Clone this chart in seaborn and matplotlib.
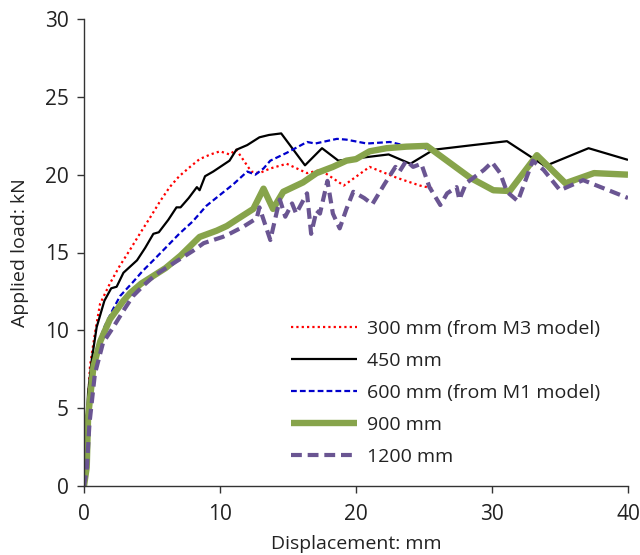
import numpy as np
import pandas as pd
import matplotlib
matplotlib.use("Agg")
import matplotlib.pyplot as plt
import seaborn as sns

# Load-displacement curves for different spacings
x_300 = [0, 0.2, 0.44, 0.8, 1.18, 1.9, 2.6, 3.4, 4.1, 4.9, 5.6, 6.3, 7.0, 7.8, 8.5, 9.3,
         10.0, 10.7, 11.2, 12.3, 12.9, 13.7, 14.9, 16.4, 17.4, 19.1, 21.0, 23.0, 24.7, 25.7]
y_300 = [0, 3.8, 7.7, 9.8, 11.7, 13.0, 14.1, 15.2, 16.2, 17.3, 18.3, 19.2, 19.9, 20.5, 21.0, 21.3,
         21.5, 21.3, 21.6, 20.2, 20.1, 20.4, 20.7, 20.1, 20.3, 19.3, 20.5, 19.8, 19.3, 19.1]

x_450 = [0, 0.15, 0.3, 0.57, 0.93, 1.5, 2.0, 2.4, 2.9, 3.9, 4.5, 5.1, 5.5, 6.2, 6.8, 7.1, 7.7,
         8.3, 8.5, 8.9, 9.5, 10.7, 11.2, 12.0, 12.9, 13.6, 14.5, 16.25, 17.5, 18.7, 20.05, 22.4,
         24.0, 25.7, 28.6, 31.1, 33.9, 37.1, 40.0]
y_450 = [0, 3.0, 6.0, 8.1, 10.2, 11.9, 12.7, 12.8, 13.7, 14.5, 15.3, 16.2, 16.3, 17.1, 17.9, 17.9, 18.5,
         19.2, 19.0, 19.9, 20.2, 20.9, 21.6, 21.9, 22.4, 22.55, 22.65, 20.6, 21.7, 20.9, 21.05, 21.3,
         20.7, 21.6, 21.9, 22.15, 20.55, 21.7, 20.95]

x_600 = [0, 0.3, 0.57, 1.05, 1.54, 2.1, 2.65, 3.6, 4.3, 5.1, 6.0, 7.0, 8.0, 9.0, 10.0, 11.0, 11.5,
         12.0, 12.6, 13.2, 13.7, 14.9, 16.4, 17.0, 18.6, 19.3, 20.8, 22.5, 23.7, 24.7, 25.4, 25.9]
y_600 = [0, 3.5, 6.6, 9.2, 10.3, 11.3, 12.2, 13.1, 13.8, 14.5, 15.3, 16.2, 17.0, 18.0, 18.7, 19.4, 19.8,
         20.2, 20.0, 20.4, 20.9, 21.4, 22.1, 22.0, 22.3, 22.25, 22.0, 22.1, 21.85, 21.8, 21.6, 21.5]

x_900 = [0, 0.2, 0.3, 0.7, 1.2, 1.9, 2.9, 3.4, 4.2, 5.1, 6.0, 7.1, 7.8, 8.5, 9.75, 10.5, 11.2,
         12.45, 13.2, 13.9, 14.65, 16.1, 17.1, 18.3, 19.3, 20.0, 21.0, 22.25, 23.7, 25.2, 28.4,
         30.1, 31.3, 33.3, 35.4, 37.5, 40.0]
y_900 = [0, 1.2, 4.45, 7.7, 9.3, 10.7, 11.9, 12.4, 13.0, 13.5, 14.0, 14.8, 15.4, 16.0, 16.4, 16.7, 17.1,
         17.8, 19.1, 17.8, 18.9, 19.5, 20.1, 20.5, 20.9, 21.0, 21.5, 21.7, 21.8, 21.85, 19.8,
         19.0, 18.95, 21.25, 19.45, 20.1, 20.0]

x_1200 = [0, 0.2, 0.4, 0.8, 1.4, 2.15, 3.0, 3.6, 4.4, 5.3, 6.2, 7.1, 8.0, 8.8, 10.2, 10.7, 11.7,
          12.7, 12.9, 13.7, 14.2, 14.4, 14.8, 15.3, 15.6, 16.4, 16.7, 17.1, 17.35, 17.9, 18.3,
          18.8, 19.3, 19.8, 20.6, 21.2, 22.1, 22.9, 23.2, 23.7, 24.2, 24.8, 25.4, 26.2, 26.7,
          27.4, 27.6, 28.1, 29.4, 30.0, 30.6, 31.1, 31.9, 33.0, 33.8, 35.0, 36.7, 40.0]
y_1200 = [0, 1.0, 4.0, 7.2, 9.2, 10.2, 11.4, 12.2, 12.9, 13.6, 14.1, 14.6, 15.1, 15.6, 16.0, 16.2, 16.65,
          17.2, 17.9, 15.8, 17.7, 18.4, 17.3, 18.15, 17.5, 18.8, 16.2, 17.7, 17.5, 19.6, 17.5,
          16.55, 17.8, 18.9, 18.5, 18.1, 19.4, 20.5, 20.2, 20.9, 20.5, 20.7, 19.2, 18.05, 18.8,
          19.2, 18.4, 19.45, 20.3, 20.8, 20.1, 18.9, 18.3, 20.9, 20.3, 19.0, 19.65, 18.5]

labels = ["300 mm (from M3 model)", "450 mm", "600 mm (from M1 model)", "900 mm", "1200 mm"]

sns.set_theme(style="ticks")
plt.rcParams["font.family"] = ["Open Sans", "DejaVu Sans"]
plt.rcParams["font.size"] = 14

fig = plt.figure(figsize=(6.4, 5.55), dpi=100)
ax = fig.add_axes([84 / 640, 1 - 486 / 555, 544 / 640, 467 / 555])

series = [
    (x_300, y_300, dict(color="#ff0000", lw=1.6, dashes=(1.0, 1.4))),
    (x_450, y_450, dict(color="#000000", lw=1.6, dashes=None)),
    (x_600, y_600, dict(color="#0000cc", lw=1.6, dashes=(2.6, 1.4))),
    (x_900, y_900, dict(color="#87a44b", lw=4.6, dashes=None)),
    (x_1200, y_1200, dict(color="#6a5592", lw=3.0, dashes=(2.6, 1.4))),
]

for (xs, ys, st), lab in zip(series, labels):
    df = pd.DataFrame({"Displacement": xs, "Load": ys})
    sns.lineplot(data=df, x="Displacement", y="Load", ax=ax, sort=False, estimator=None,
                 color=st["color"], linewidth=st["lw"], label=lab)
    ln = ax.lines[-1]
    if st["dashes"] is not None:
        ln.set_dashes(st["dashes"])
    ln.set_solid_capstyle("butt")
    ln.set_dash_capstyle("butt")

ax.set_xlim(0, 40)
ax.set_ylim(0, 30)
ax.set_xticks([0, 10, 20, 30, 40])
ax.set_yticks([0, 5, 10, 15, 20, 25, 30])
ax.set_xlabel("Displacement: mm", fontsize=14, color="#222222", labelpad=7.5)
ax.set_ylabel("Applied load: kN", fontsize=14, color="#222222", labelpad=11.5)
ax.tick_params(axis="both", direction="out", length=5, width=1, colors="#333333",
               labelsize=15, labelcolor="#222222")
ax.tick_params(axis="x", pad=8)
ax.tick_params(axis="y", pad=6)
for side in ["top", "right"]:
    ax.spines[side].set_visible(False)
for side in ["left", "bottom"]:
    ax.spines[side].set_color("#333333")
    ax.spines[side].set_linewidth(1.0)

leg = ax.legend(loc="upper left", bbox_to_anchor=(291 / 640, 1 - 320 / 555),
                bbox_transform=fig.transFigure, frameon=False, fontsize=14,
                handlelength=3.4, handletextpad=0.5, labelspacing=0.72,
                borderpad=0, borderaxespad=0)
for t in leg.get_texts():
    t.set_color("#222222")

fig.savefig("out.png", dpi=100)
